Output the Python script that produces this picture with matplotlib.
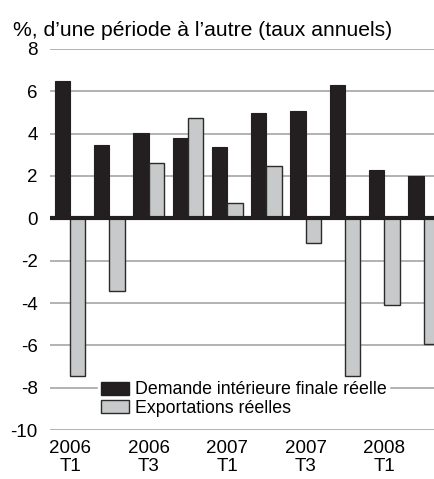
import matplotlib
matplotlib.use("Agg")
import matplotlib.pyplot as plt
import numpy as np
from matplotlib.patches import Patch

plt.rcParams['font.family'] = ['Liberation Sans', 'DejaVu Sans']

quarters = ["2006 T1", "2006 T2", "2006 T3", "2006 T4", "2007 T1", "2007 T2",
            "2007 T3", "2007 T4", "2008 T1", "2008 T2"]
demande = [6.5, 3.45, 4.05, 3.78, 3.36, 4.97, 5.08, 6.31, 2.3, 2.01]
exportations = [-7.46, -3.41, 2.59, 4.73, 0.74, 2.48, -1.16, -7.46, -4.1, -5.95]
tick_labels = ["2006\nT1", "", "2006\nT3", "", "2007\nT1", "", "2007\nT3", "", "2008\nT1", ""]
yticks = [8, 6, 4, 2, 0, -2, -4, -6, -8, -10]

fig = plt.figure(figsize=(4.35, 4.79), dpi=100)
ax = fig.add_axes([0.115, 0.102, 0.885, 0.796])

x = np.arange(len(quarters))
w = 0.39
ax.bar(x - w / 2, demande, width=w, color="#231f20", edgecolor="#231f20", linewidth=0.8, zorder=3)
ax.bar(x + w / 2, exportations, width=w, color="#c8c9ca", edgecolor="#2b2b2b", linewidth=1.0, zorder=3)

ax.set_xlim(-0.51, 9.29)
ax.set_ylim(-10, 8)
ax.set_yticks(yticks)
ax.set_yticklabels([str(v) for v in yticks])
ax.yaxis.grid(True, color="#a5a5a5", linewidth=1.2, zorder=0)
ax.axhline(0, color="#231f20", linewidth=3, zorder=4)
ax.set_xticks(x)
ax.set_xticklabels(tick_labels, linespacing=1.1)
ax.tick_params(axis='both', length=0, labelsize=13.5)
ax.tick_params(axis='y', pad=9)
ax.tick_params(axis='x', pad=7)
for s in ax.spines.values():
    s.set_visible(False)

fig.text(0.03, 0.937, "%, d\u2019une période à l\u2019autre (taux annuels)", fontsize=15.2, ha='left', va='center')

handles = [Patch(facecolor="#231f20", edgecolor="#231f20", label="Demande intérieure finale réelle"),
           Patch(facecolor="#c8c9ca", edgecolor="#2b2b2b", label="Exportations réelles")]
leg = ax.legend(handles=handles, loc='upper left', bbox_to_anchor=(0.125, 0.135), fontsize=12.8,
                frameon=True, fancybox=False, framealpha=1, edgecolor='white', facecolor='white',
                handlelength=1.6, handleheight=0.75, handletextpad=0.3, labelspacing=0.1,
                borderpad=0.15, borderaxespad=0)
leg.set_zorder(5)

fig.savefig("out.png", dpi=100)
